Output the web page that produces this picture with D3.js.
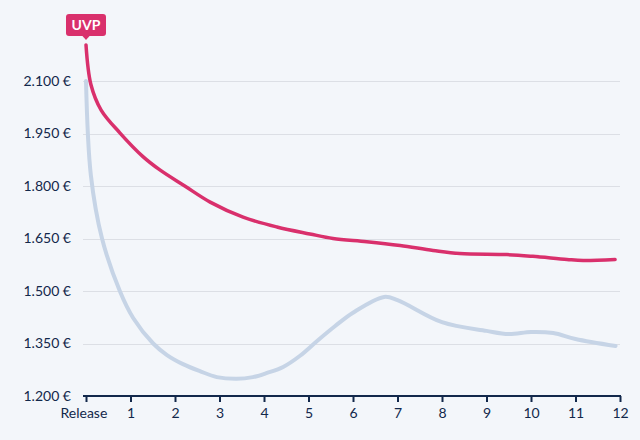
<!doctype html>
<html>
<head>
<style>
  body { margin: 0; background: #f3f6fa; }
  svg { display: block; font-family: Lato, "Noto Sans", sans-serif; }
  .grid line { stroke: #dcdfe5; stroke-width: 1; shape-rendering: crispEdges; }
  .axis path, .axis line { stroke: #12284b; stroke-width: 2; }
  .axis text { fill: #12284b; font-size: 14px; font-family: Lato, sans-serif; }
</style>
<script src="https://d3js.org/d3.v7.min.js"></script>
</head>
<body>
<svg width="640" height="440"></svg>
<script>
// release = 0, then months 1..12
var xTicks = [0, 1, 2, 3, 4, 5, 6, 7, 8, 9, 10, 11, 12];
var xTickLabels = ["Release", "1", "2", "3", "4", "5", "6", "7", "8", "9", "10", "11", "12"];
var yTicks = [1200, 1350, 1500, 1650, 1800, 1950, 2100];

var uvpX = [0, 0.11, 0.34, 0.76, 1.28, 1.66, 2.22, 2.79, 3.53, 4.29, 5.03, 5.55, 6.31, 7.06, 7.8, 8.4, 9.46, 10.04, 10.81, 11.17, 11.89];
var uvpY = [2203, 2090, 2017, 1952, 1884, 1846, 1800, 1754, 1711, 1683, 1663, 1650, 1641, 1630, 1616, 1607, 1604, 1599, 1590, 1587, 1590];

var priceX = [0, 0.11, 0.36, 0.76, 1.06, 1.51, 1.82, 2.18, 2.56, 2.94, 3.39, 3.75, 4.07, 4.43, 4.81, 5.2, 5.6, 6, 6.7, 7, 8, 9, 9.5, 10, 10.5, 11, 11.9];
var priceY = [2100, 1830, 1650, 1500, 1423, 1350, 1317, 1291, 1271, 1254, 1249, 1254, 1266, 1283, 1315, 1358, 1400, 1438, 1483, 1474, 1411, 1386, 1377, 1383, 1380, 1363, 1343];

var svg = d3.select("svg");

var x = d3.scaleLinear().domain([0, 12]).range([86, 620]);
var y = d3.scaleLinear().domain([1200, 2100]).range([396, 81]);

var de = d3.formatLocale({ decimal: ",", thousands: ".", grouping: [3], currency: ["", " €"] });
var fmt = de.format(",.0f");

// grid
svg.append("g").attr("class", "grid")
  .selectAll("line")
  .data(yTicks.slice(1))
  .enter().append("line")
  .attr("x1", 83).attr("x2", 620)
  .attr("y1", function(d) { return Math.round(y(d)) + 0.5; })
  .attr("y2", function(d) { return Math.round(y(d)) + 0.5; });

// y labels
svg.append("g")
  .selectAll("text")
  .data(yTicks)
  .enter().append("text")
  .attr("x", 71)
  .attr("y", function(d) { return y(d); })
  .attr("dy", "0.35em")
  .attr("text-anchor", "end")
  .attr("fill", "#12284b")
  .attr("font-size", "14px")
  .text(function(d) { return fmt(d) + " €"; });

// x axis
var xAxis = svg.append("g").attr("class", "axis")
  .attr("transform", "translate(0,396)")
  .call(d3.axisBottom(x).tickValues(xTicks).tickSize(6).tickSizeOuter(0)
    .tickFormat(function(d, i) { return xTickLabels[i]; }));
xAxis.select(".domain").attr("d", "M83,0H621");
xAxis.selectAll(".tick line").attr("stroke-width", 1.5);
xAxis.selectAll(".tick text").attr("dy", "0.9em");
xAxis.selectAll(".tick").filter(function(d) { return d === 0; }).select("text")
  .attr("text-anchor", "start").attr("x", -26);

var line = d3.line().curve(d3.curveCatmullRom.alpha(0.5));

svg.append("path")
  .attr("d", line(priceX.map(function(d, i) { return [x(d), y(priceY[i])]; })))
  .attr("fill", "none")
  .attr("stroke", "#c6d4e6")
  .attr("stroke-width", 4)
  .attr("stroke-linecap", "round");

svg.append("path")
  .attr("d", line(uvpX.map(function(d, i) { return [x(d), y(uvpY[i])]; })))
  .attr("fill", "none")
  .attr("stroke", "#d9306c")
  .attr("stroke-width", 3.5)
  .attr("stroke-linecap", "round");

// UVP label
var lx = x(uvpX[0]), ly = y(uvpY[0]);
var lab = svg.append("g").attr("transform", "translate(" + lx + "," + (ly - 8) + ")");
lab.append("rect")
  .attr("x", -20).attr("y", -23).attr("width", 40).attr("height", 22).attr("rx", 3)
  .attr("fill", "#d9306c");
lab.append("path").attr("d", "M-4,-1.5L0,3L4,-1.5Z").attr("fill", "#d9306c");
lab.append("text")
  .attr("x", 0).attr("y", -7)
  .attr("text-anchor", "middle")
  .attr("fill", "#fff")
  .attr("font-size", "14px")
  .attr("font-weight", "bold")
  .text("UVP");
</script>
</body>
</html>
